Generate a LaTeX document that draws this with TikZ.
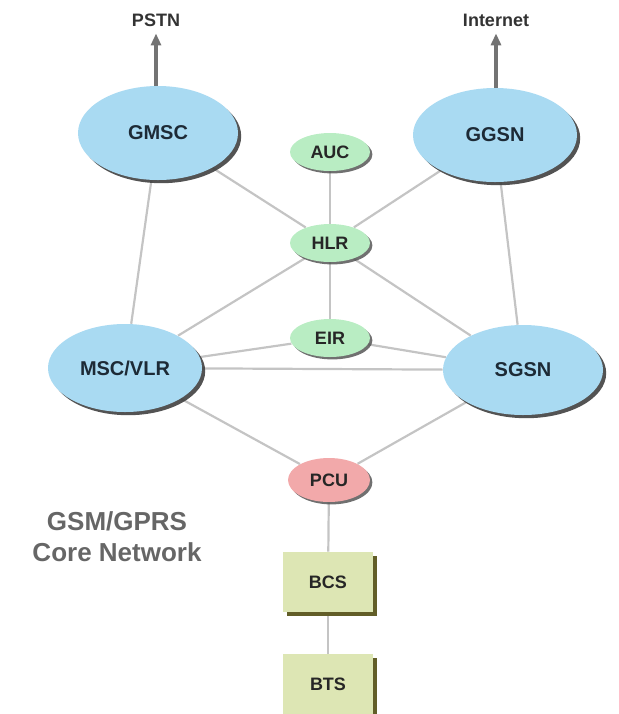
\documentclass[tikz,border=0pt]{standalone}
\usepackage{fontspec}
\setmainfont{Liberation Sans}
\usepackage{tikz}
\usetikzlibrary{shapes.geometric}
\usetikzlibrary{shadows}
\usetikzlibrary{arrows.meta}
\usetikzlibrary{backgrounds}
\definecolor{coreblue}{HTML}{A9DAF2}
\definecolor{coregreen}{HTML}{B9EDC3}
\definecolor{corered}{HTML}{F2A9AA}
\definecolor{coreolive}{HTML}{DDE6B4}
\definecolor{linegray}{HTML}{C4C4C4}
\definecolor{labelink}{HTML}{1D2A36}
\tikzset{
  bignode/.style={ellipse, fill=coreblue, inner sep=0, text=labelink,
    font=\bfseries\fontsize{10}{12}\selectfont,
    drop shadow={shadow xshift=1.6pt, shadow yshift=-1.6pt, fill=black!75, opacity=.9}},
  smallnode/.style={ellipse, fill=coregreen, inner sep=0, text=black!85,
    minimum width=40pt, minimum height=19pt,
    font=\bfseries\fontsize{9}{11}\selectfont,
    drop shadow={shadow xshift=1.2pt, shadow yshift=-1.2pt, fill=black!70, opacity=.8}},
  boxnode/.style={rectangle, fill=coreolive, text=black!85,
    minimum width=45pt, minimum height=30pt,
    font=\bfseries\fontsize{9}{11}\selectfont,
    drop shadow={shadow xshift=2pt, shadow yshift=-2pt, fill=olive!60!black, opacity=1}},
  link/.style={linegray, line width=1.1pt},
  uplink/.style={black!55, line width=1.6pt, -{Triangle[length=6pt,width=5pt]}}
}
\begin{document}
\begin{tikzpicture}[x=0.5pt, y=-0.5pt]
\useasboundingbox (0,0) rectangle (618,714);

\node[font=\bfseries\fontsize{9}{11}\selectfont, text=black!80] (pstn) at (156,20) {PSTN};
\node[font=\bfseries\fontsize{9}{11}\selectfont, text=black!80] (inet) at (496,20) {Internet};

\node[bignode, minimum width=80pt, minimum height=47pt] (gmsc) at (158,133) {GMSC};
\node[bignode, minimum width=82pt, minimum height=47pt] (ggsn) at (495,135) {GGSN};
\node[bignode, minimum width=77pt, minimum height=44pt] (msc) at (125,368) {MSC/VLR};
\node[bignode, minimum width=80pt, minimum height=45pt] (sgsn) at (523,370) {SGSN};

\node[smallnode] (auc) at (330,152) {AUC};
\node[smallnode] (hlr) at (330,243) {HLR};
\node[smallnode] (eir) at (330,338) {EIR};
\node[smallnode, fill=corered, minimum width=41pt, minimum height=22pt] (pcu) at (329,480) {PCU};

\node[boxnode] (bcs) at (328,582) {BCS};
\node[boxnode] (bts) at (328,684) {BTS};

\node[align=center, text=black!60, font=\bfseries\fontsize{13}{15.5}\selectfont] (core) at (117,537) {GSM/GPRS\\Core Network};

\begin{scope}[on background layer]
\foreach \a/\b in {gmsc/msc, gmsc/hlr, ggsn/hlr, ggsn/sgsn, auc/hlr, hlr/eir,
  hlr/msc, hlr/sgsn, eir/msc, eir/sgsn, msc/sgsn, msc/pcu, sgsn/pcu, pcu/bcs, bcs/bts}
  \draw[link] (\a) -- (\b);
\end{scope}

\draw[uplink] (pstn.south |- gmsc.north) -- (pstn.south);
\draw[uplink] (inet.south |- ggsn.north) -- (inet.south);
\end{tikzpicture}
\end{document}
